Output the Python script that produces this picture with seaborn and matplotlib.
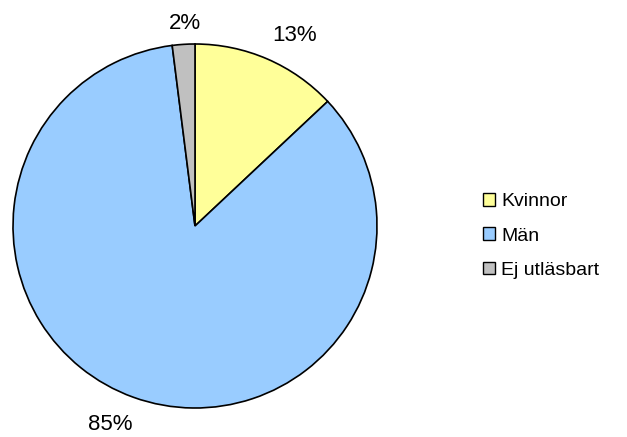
import matplotlib
matplotlib.use("Agg")
import matplotlib.pyplot as plt
import seaborn as sns

categories = ["Kvinnor", "Män", "Ej utläsbart"]
values = [13, 85, 2]
colors_hex = ["#FFFF99", "#99CCFF", "#C0C0C0"]

sns.set_style("white")
plt.rcParams['font.family'] = ['Liberation Sans', 'DejaVu Sans']
plt.rcParams['text.color'] = 'black'

palette = sns.color_palette(colors_hex)

fig = plt.figure(figsize=(6.27, 4.37), dpi=100)
ax = fig.add_axes([(195 - 182) / 627, (437 - 226 - 182) / 437, 364 / 627, 364 / 437])

wedges, texts, autotexts = ax.pie(
    values, colors=palette, startangle=90, counterclock=False,
    autopct=lambda p: f"{p:.0f}%", pctdistance=1.18,
    wedgeprops=dict(edgecolor="black", linewidth=1.2),
    textprops=dict(fontsize=16, color="black"),
)
# label placement (Excel-style, outside the pie)
label_pos = [(0.549, 1.049), (-0.464, -1.093), (-0.055, 1.113)]
for t, p in zip(autotexts, label_pos):
    t.set_position(p)

ax.set_xlim(-1, 1)
ax.set_ylim(-1, 1)
ax.set_aspect("equal")

leg = fig.legend(
    wedges, categories, loc="center left",
    bbox_to_anchor=(483 / 627, 1 - 236 / 437), bbox_transform=fig.transFigure,
    frameon=False, fontsize=14, handlelength=0.6, handleheight=0.6,
    handletextpad=0.35, labelspacing=0.88, borderpad=0, borderaxespad=0,
    labelcolor="black",
)
for h in leg.legend_handles:
    h.set_linewidth(1.0)
    h.set_edgecolor("black")

fig.savefig("out.png", dpi=100)
